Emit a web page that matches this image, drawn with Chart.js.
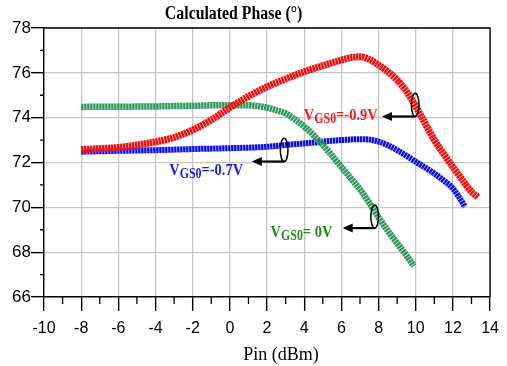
<!DOCTYPE html>
<html>
<head>
<meta charset="utf-8">
<script src="https://cdn.jsdelivr.net/npm/chart.js@4.4.1/dist/chart.umd.min.js"></script>
<style>
html,body{margin:0;padding:0;background:#fff;}
canvas{display:block;}
</style>
</head>
<body>
<canvas id="c" width="507" height="366"></canvas>
<script>
// ---- data ----
const xTicks = [-10,-8,-6,-4,-2,0,2,4,6,8,10,12,14];
const yTicks = [66,68,70,72,74,76,78];

const redX = [-8,-7,-6,-5,-4,-3,-2,-1,0,1,2,3,4,5,6,6.5,7,7.5,8,8.5,9,9.5,10,10.5,11,11.5,12,12.5,13,13.35];
const redY = [72.58,72.62,72.67,72.78,72.92,73.12,73.45,73.9,74.45,74.95,75.38,75.73,76.05,76.32,76.57,76.68,76.72,76.6,76.35,76.05,75.68,75.18,74.5,73.75,73.0,72.38,71.8,71.23,70.69,70.45];

const blueX = [-8,-6,-4,-2,0,2,3,4,5,6,7,7.5,8,8.5,9,9.5,10,10.5,11,11.5,12,12.3,12.65];
const blueY = [72.48,72.52,72.55,72.6,72.64,72.7,72.78,72.85,72.93,73.0,73.04,73.02,72.93,72.77,72.55,72.3,72.03,71.78,71.51,71.2,70.84,70.5,70.02];

const greenX = [-8,-6,-4,-3,-2,-1,0,1,1.5,2,2.5,3,3.5,4,4.5,5,5.5,6,6.5,7,7.5,8,8.5,9,9.5,9.9];
const greenY = [74.48,74.49,74.5,74.52,74.53,74.55,74.55,74.55,74.52,74.45,74.33,74.19,73.92,73.6,73.22,72.78,72.3,71.8,71.3,70.8,70.2,69.55,68.95,68.4,67.85,67.38];

const labelRed = ["V","GS0","=-0.9V"];
const labelBlue = ["V","GS0","=-0.7V"];
const labelGreen = ["V","GS0","= 0V"];

const titleText = "Calculated Phase (°)";
const xTitleText = "Pin (dBm)";

// annotation anchors in data units
const annotations = [
  {parts: labelRed,   color:'#ff1a1a', textX:3.98,  textY:73.9,  tipX:8.18, ellX:9.97, ellY:74.57},
  {parts: labelBlue,  color:'#1a1aff', textX:-3.26, textY:71.44, tipX:1.18, ellX:2.92, ellY:72.56},
  {parts: labelGreen, color:'#1e8c1e', textX:2.19,  textY:68.69, tipX:6.07, ellX:7.79, ellY:69.59}
];

function pts(xs, ys){ return xs.map((x,i)=>({x:x, y:ys[i]})); }

const serif = "'Liberation Serif','Times New Roman',serif";
const sans = "'Liberation Sans',Arial,sans-serif";

const decor = {
  id:'decor',
  afterDraw(chart){
    const ctx = chart.ctx, a = chart.chartArea;
    const xs = chart.scales.x, ys = chart.scales.y;
    ctx.save();
    // frame top/right
    ctx.strokeStyle = '#000'; ctx.lineWidth = 1.3;
    ctx.beginPath();
    ctx.moveTo(a.left, a.top); ctx.lineTo(a.right, a.top); ctx.lineTo(a.right, a.bottom);
    ctx.stroke();
    // minor ticks
    ctx.lineWidth = 1.3;
    ctx.beginPath();
    for (let v = -9; v < 14; v += 2){
      const px = xs.getPixelForValue(v);
      ctx.moveTo(px, a.bottom); ctx.lineTo(px, a.bottom + 7);
    }
    for (let v = 67; v < 78; v += 2){
      const py = ys.getPixelForValue(v);
      ctx.moveTo(a.left - 4, py); ctx.lineTo(a.left, py);
    }
    ctx.stroke();

    // title
    ctx.fillStyle = '#000';
    ctx.textBaseline = 'alphabetic';
    ctx.save();
    ctx.translate(xs.getPixelForValue(0.2), 19);
    ctx.scale(0.88, 1);
    ctx.font = "bold 18px " + serif;
    ctx.textAlign = 'center';
    ctx.fillText(titleText, 0, 0);
    ctx.restore();
    // x title
    ctx.font = "18px " + serif;
    ctx.textAlign = 'center';
    ctx.fillText(xTitleText, 281, 360);

    // annotations
    annotations.forEach(an => {
      const tx = xs.getPixelForValue(an.textX), ty = ys.getPixelForValue(an.textY);
      ctx.save();
      ctx.translate(tx, ty);
      ctx.scale(0.85, 1);
      ctx.fillStyle = an.color;
      ctx.textAlign = 'left';
      let cx = 0;
      ctx.font = "bold 17px " + serif;
      ctx.fillText(an.parts[0], cx, 0); cx += ctx.measureText(an.parts[0]).width;
      ctx.font = "bold 14px " + serif;
      ctx.fillText(an.parts[1], cx, 3); cx += ctx.measureText(an.parts[1]).width;
      ctx.font = "bold 17px " + serif;
      ctx.fillText(an.parts[2], cx, 0);
      ctx.restore();

      const ex = xs.getPixelForValue(an.ellX), ey = ys.getPixelForValue(an.ellY);
      const ry = 11.6, rx = 3.8;
      ctx.strokeStyle = '#000'; ctx.lineWidth = 1.5;
      ctx.beginPath();
      ctx.ellipse(ex, ey, rx, ry, 0, 0, Math.PI*2);
      ctx.stroke();
      const tipx = xs.getPixelForValue(an.tipX), tipy = ey + ry;
      ctx.lineWidth = 2.2;
      ctx.beginPath();
      ctx.moveTo(ex, tipy); ctx.lineTo(tipx + 8, tipy);
      ctx.stroke();
      ctx.fillStyle = '#000';
      ctx.beginPath();
      ctx.moveTo(tipx, tipy); ctx.lineTo(tipx + 10, tipy - 4.5); ctx.lineTo(tipx + 10, tipy + 4.5);
      ctx.closePath(); ctx.fill();
    });
    ctx.restore();
  }
};

new Chart(document.getElementById('c'), {
  type: 'scatter',
  data: {
    datasets: [
      {data: pts(redX, redY), borderColor:'#ff0a0a', borderWidth:7, showLine:true, pointRadius:0, cubicInterpolationMode:'monotone', borderDash:[2.4,0.6], order:0},
      {data: pts(greenX, greenY), borderColor:'#2e9a5e', borderWidth:6.5, showLine:true, pointRadius:0, cubicInterpolationMode:'monotone', borderDash:[2.4,0.6], order:1},
      {data: pts(blueX, blueY), borderColor:'#0a0aff', borderWidth:6, showLine:true, pointRadius:0, cubicInterpolationMode:'monotone', borderDash:[2.4,0.6], order:2}
    ]
  },
  options: {
    responsive:false, animation:false, devicePixelRatio:1,
    layout:{padding:{top:28, right:12, left:0, bottom:0}},
    plugins:{legend:{display:false}, title:{display:false}, tooltip:{enabled:false}},
    scales:{
      x:{type:'linear', min:xTicks[0], max:xTicks[xTicks.length-1],
         afterBuildTicks(s){ s.ticks = xTicks.map(v=>({value:v})); },
         ticks:{color:'#000', font:{family:sans, size:16}, padding:8, maxRotation:0, autoSkip:false},
         grid:{color:'#c6c6c6', lineWidth:1.3, tickColor:'#000', tickLength:14, tickWidth:1.4},
         border:{color:'#000', width:1.4},
         afterFit(s){ s.height = 69; }},
      y:{type:'linear', min:yTicks[0], max:yTicks[yTicks.length-1],
         afterBuildTicks(s){ s.ticks = yTicks.map(v=>({value:v})); },
         ticks:{color:'#000', font:{family:sans, size:17}, padding:0},
         grid:{color:'#c6c6c6', lineWidth:1.3, tickColor:'#000', tickLength:13, tickWidth:1.4},
         border:{color:'#000', width:1.4},
         afterFit(s){ s.width = 44; }}
    }
  },
  plugins:[decor]
});
</script>
</body>
</html>
